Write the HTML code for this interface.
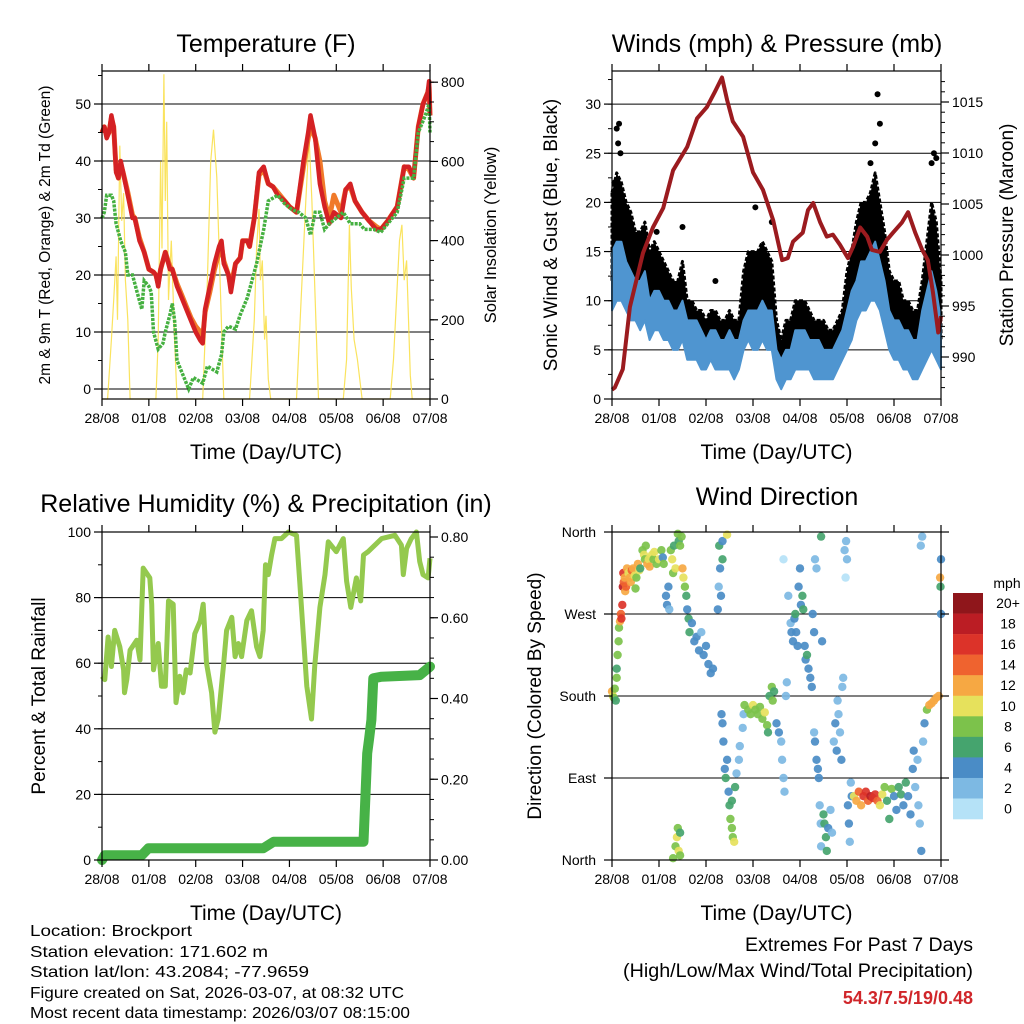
<!DOCTYPE html>
<html><head><meta charset="utf-8"><style>
html,body{margin:0;padding:0;background:#fff;}
svg{display:block;font-family:"Liberation Sans",sans-serif;}
</style></head><body>
<svg id="fig" width="1024" height="1024" viewBox="0 0 1024 1024" xmlns="http://www.w3.org/2000/svg">
<g><text x="266" y="52" font-size="25" text-anchor="middle">Temperature (F)</text></g>
<g><text x="777" y="52" font-size="25" text-anchor="middle">Winds (mph) &amp; Pressure (mb)</text></g>
<g><text x="266" y="512" font-size="25" text-anchor="middle">Relative Humidity (%) &amp; Precipitation (in)</text></g>
<g><text x="777" y="505" font-size="25" text-anchor="middle">Wind Direction</text></g>
<g font-size="16">
<text x="30" y="936" textLength="162" lengthAdjust="spacingAndGlyphs">Location: Brockport</text>
<text x="30" y="957" textLength="238" lengthAdjust="spacingAndGlyphs">Station elevation: 171.602 m</text>
<text x="30" y="977" textLength="279" lengthAdjust="spacingAndGlyphs">Station lat/lon: 43.2084; -77.9659</text>
<text x="30" y="998" textLength="374" lengthAdjust="spacingAndGlyphs">Figure created on Sat, 2026-03-07, at 08:32 UTC</text>
<text x="30" y="1018" textLength="380" lengthAdjust="spacingAndGlyphs">Most recent data timestamp: 2026/03/07 08:15:00</text>
</g>
<g font-size="19" text-anchor="end">
<text x="973" y="951" textLength="228" lengthAdjust="spacingAndGlyphs">Extremes For Past 7 Days</text>
<text x="973" y="977" textLength="350" lengthAdjust="spacingAndGlyphs">(High/Low/Max Wind/Total Precipitation)</text>
<text x="973" y="1004" fill="#d0262a" font-weight="bold" font-size="18">54.3/7.5/19/0.48</text>
</g>
</svg>
<script>
// ---------- data ----------
const dayLabels = ["28/08","01/08","02/08","03/08","04/08","05/08","06/08","07/08"];
const tempTicks = [0,10,20,30,40,50];
const solarTicks = [0,200,400,600,800];
const windTicks = [0,5,10,15,20,25,30];
const presTicks = [990,995,1000,1005,1010,1015];
const rhTicks = [0,20,40,60,80,100];
const precipTicks = [0,0.2,0.4,0.6,0.8];
const precipTickLabels = ["0.00","0.20","0.40","0.60","0.80"];
const dirTicks = [0,90,180,270,360];
const dirTickLabels = ["North","East","South","West","North"];
const speedBins = ["0","2","4","6","8","10","12","14","16","18","20+"];
const speedColors = ["#b5e2f7","#7db9e3","#4a8cc6","#45a46e","#7cc24b","#e6e15c","#f6a843","#ef632f","#dc3329","#bb1d24","#8f161b"];

const tDays = [0,0.05,0.1,0.15,0.2,0.25,0.3,0.35,0.4,0.45,0.55,0.65,0.7,0.8,0.9,1.0,1.1,1.15,1.2,1.25,1.35,1.45,1.5,1.6,1.7,1.8,1.9,2.0,2.1,2.15,2.2,2.3,2.4,2.5,2.55,2.6,2.7,2.75,2.85,2.95,3.0,3.1,3.15,3.25,3.35,3.45,3.55,3.65,3.75,3.9,4.0,4.15,4.3,4.4,4.45,4.55,4.65,4.75,4.85,4.95,5.1,5.2,5.3,5.4,5.55,5.7,5.85,5.95,6.1,6.3,6.45,6.55,6.65,6.75,6.85,6.95,6.98,7.0];
const t2m = [45,46,44,45,48,46,38,37,40,38,34,30,30,26,24,21,20.5,20,18,21,24,21,21,18,16,14,12,10,8.5,8,14,18,22,25,26,22,20,17,22,23,26,26,25,30,38,39,36,35.5,34,33,32,31,40,45,48,44,36,32,29,31,30,35,36,33,31,29.5,28,28,29.5,32,39,39,37,46,50,52,54,48];
const t9m = [45,46,44.5,45,47.5,46,38.5,37,39.5,38,34.5,30.5,30,26.5,24,21,20.5,20,18.5,21,24,21.5,21,18.5,16.5,14.5,12.5,11,10,9,13.5,17,21,24,25,22.5,20,18,22,23,26,26,25,30,37.5,38.5,36,35.5,34.5,33,32,31,39,44,46,44,40,33,30,34,31,35,35.5,33,31,29.5,28.5,28,29.5,32,39,38.5,37,46,50,52,53,48];
const tdDays = [0,0.05,0.1,0.2,0.25,0.3,0.4,0.5,0.55,0.65,0.75,0.85,0.9,1.0,1.05,1.1,1.2,1.3,1.35,1.45,1.5,1.55,1.6,1.7,1.85,1.95,2.05,2.15,2.25,2.35,2.45,2.55,2.6,2.7,2.85,2.95,3.1,3.3,3.45,3.55,3.75,3.9,4.05,4.2,4.35,4.45,4.55,4.65,4.75,4.85,5.0,5.15,5.3,5.5,5.6,5.8,5.95,6.1,6.3,6.45,6.55,6.65,6.75,6.9,6.98,7.0];
const td2m = [30,31,34,34,33,29,26,24,20,20,17,14,19,18,17,10,7,8,10,13,15,12,5,3,0,2,1.5,1,4,3.5,3,6,10,11,10.5,13,16,22,28,33,34,32.5,31.5,31,30,27,31,31,28,29,30,31,29,29,28,28,27.5,29,31,37,37,37,45,48,50,45];
const solDays = [0,0.12,0.2,0.25,0.3,0.33,0.38,0.42,0.46,0.5,0.55,0.6,1.15,1.2,1.25,1.28,1.32,1.35,1.38,1.42,1.48,1.55,1.6,2.15,2.25,2.32,2.38,2.45,2.52,2.6,3.15,3.25,3.3,3.35,3.38,3.42,3.47,3.5,3.55,3.6,4.15,4.25,4.35,4.42,4.48,4.55,4.62,5.15,5.22,5.28,5.32,5.38,5.45,5.55,6.15,6.22,6.35,6.4,6.45,6.5,6.58,6.62,7.0];
const solar = [0,0,150,250,360,200,640,450,520,300,200,0,0,150,600,380,820,500,700,250,400,150,0,0,300,600,680,560,300,0,0,200,380,480,300,350,150,210,50,0,0,250,500,660,500,250,0,0,100,440,280,150,100,0,0,100,400,440,300,350,60,0,0];

const wDays = [0,0.1,0.2,0.3,0.4,0.5,0.6,0.7,0.8,0.9,1.0,1.1,1.2,1.3,1.4,1.5,1.6,1.7,1.8,1.9,2.0,2.1,2.2,2.3,2.4,2.5,2.6,2.7,2.8,2.9,3.0,3.1,3.2,3.3,3.4,3.5,3.6,3.7,3.8,3.9,4.0,4.1,4.2,4.3,4.4,4.5,4.6,4.7,4.8,4.9,5.0,5.1,5.2,5.3,5.4,5.5,5.6,5.7,5.8,5.9,6.0,6.1,6.2,6.3,6.4,6.5,6.6,6.7,6.8,6.9,7.0];
const windLow = [9,10,10,9,8,8,7,8,6,7,7,6,6,5,5,6,4,4,4,3,3,4,3,3,3,3,2,3,5,6,5,5,6,5,5,2,1,2,2,3,3,3,3,2,2,2,2,2,3,4,5,6,8,9,9,10,10,9,7,5,4,4,3,3,2,2,3,4,5,4,3];
const windHigh = [15,16,16,14,13,12,12,13,10,11,11,10,10,9,9,10,8,8,8,7,6,7,7,6,6,7,6,6,8,9,9,9,10,9,9,5,4,5,5,7,7,7,6,6,6,5,5,5,6,7,9,11,12,14,14,15,16,14,12,9,8,8,7,7,6,6,9,11,13,11,8];
const gustLow = [12,13,13,12,11,10,9,10,8,9,9,8,8,7,7,8,6,6,5,5,4,5,5,4,4,5,3,4,8,9,9,9,10,9,8,3,2,3,4,5,5,5,5,4,4,3,3,3,4,5,7,9,12,13,14,15,15,13,10,7,6,6,5,5,4,4,6,8,10,8,6];
const gustHigh = [21,23,22,20,19,17,17,18,15,16,15,14,13,12,12,14,10,10,9,9,8,9,9,8,8,9,8,8,13,15,15,15,16,15,14,8,6,8,8,10,10,10,9,8,8,8,7,7,8,9,13,15,18,20,20,21,23,20,17,13,12,12,10,10,9,9,12,16,20,18,12];
const gustOutDays = [0.1,0.18,0.13,0.95,2.2,3.05,3.4,5.65,5.7,5.6,6.85,6.9,0.05,1.5,0.15,5.5,6.8];
const gustOut = [27.5,25,26,17,12,19.5,18,31,28,26,25,24.5,22,17.5,28,24,24];
const pDays = [0,0.06,0.23,0.38,0.66,0.87,1.09,1.3,1.6,1.81,2.02,2.19,2.34,2.45,2.57,2.79,3.0,3.21,3.43,3.62,3.74,3.85,4.06,4.17,4.28,4.43,4.57,4.7,4.85,5.02,5.13,5.28,5.43,5.53,5.7,5.85,5.98,6.17,6.3,6.45,6.6,6.72,6.83,6.94,7.0];
const pressure = [986.8,987.0,988.8,994.9,1000.2,1002.7,1004.6,1008.3,1010.6,1013.4,1014.5,1016.0,1017.4,1015.2,1013.1,1011.6,1008.1,1006.4,1003.4,999.5,999.7,1001.3,1002.2,1004.4,1005.1,1003.2,1001.8,1002.0,1001.0,999.7,1000.8,1002.7,1001.8,1000.5,1000.3,1001.5,1002.2,1003.2,1004.2,1002.2,1000.5,999.5,996.3,992.4,994.0];

const rhDays = [0,0.06,0.13,0.2,0.27,0.38,0.46,0.48,0.53,0.6,0.74,0.81,0.88,1.02,1.06,1.1,1.2,1.27,1.35,1.42,1.52,1.58,1.66,1.73,1.8,1.88,1.98,2.1,2.16,2.23,2.34,2.41,2.48,2.59,2.66,2.77,2.84,2.91,2.98,3.09,3.19,3.3,3.37,3.44,3.49,3.55,3.62,3.69,3.83,3.98,4.15,4.22,4.37,4.47,4.54,4.65,4.76,4.83,5.0,5.15,5.22,5.31,5.43,5.52,5.58,5.68,5.97,6.25,6.39,6.43,6.5,6.6,6.71,6.78,6.85,6.96,7.0];
const rh = [56,55,68,59,70,65,58,51,55,64,67,61,89,86,78,58,66,53,53,79,78,48,56,51,58,57,69,73,78,60,51,39,43,59,70,74,62,66,62,73,76,65,62,70,90,87,93,98,98,100,99,85,53,43,59,77,87,97,94,98,85,77,86,79,93,94,98,99,96,87,95,98,100,91,87,86,92];
const prDays = [0,0.06,0.85,0.99,3.44,3.66,5.58,5.62,5.66,5.7,5.75,5.79,5.97,6.78,7.0];
const precip = [0,0.012,0.012,0.029,0.029,0.045,0.045,0.15,0.264,0.3,0.347,0.45,0.454,0.458,0.479];

const dirDay = [0,0.02,0.04,0.06,0.08,0.1,0.1,0.12,0.14,0.15,0.17,0.19,0.2,0.22,0.23,0.24,0.25,0.27,0.28,0.3,0.32,0.35,0.38,0.4,0.42,0.45,0.48,0.5,0.52,0.55,0.58,0.6,0.65,0.68,0.7,0.72,0.75,0.78,0.8,0.85,0.88,0.9,0.95,1.0,1.05,1.08,1.1,1.15,1.17,1.2,1.22,1.25,1.28,1.3,1.32,1.35,1.4,1.42,1.45,1.48,1.5,1.52,1.55,1.58,1.6,1.63,1.65,1.7,1.75,1.8,1.85,1.9,1.95,2.0,2.05,2.1,2.15,2.25,2.27,2.28,2.3,2.32,2.35,2.45,2.35,
1.3,1.35,1.38,1.4,1.42,1.45,1.45,
2.33,2.35,2.37,2.4,2.42,2.45,2.48,2.5,2.52,2.55,2.57,2.6,2.55,2.62,2.65,2.7,2.72,2.78,2.8,2.82,2.9,2.95,3.0,3.05,3.1,3.15,3.2,3.25,3.3,3.32,3.35,3.4,3.42,3.45,3.5,3.55,3.6,3.62,3.65,3.67,3.7,3.72,3.65,
3.75,3.8,3.82,3.85,3.88,3.9,3.92,3.95,3.97,4.0,4.02,4.05,4.07,4.1,4.12,4.15,4.18,4.22,4.25,4.27,4.3,4.32,4.35,4.45,4.47,
4.3,4.32,4.35,4.38,4.4,4.42,4.44,4.45,4.5,4.52,4.55,4.57,4.6,4.65,4.68,4.72,4.75,4.78,4.8,4.82,4.85,4.88,4.9,4.92,4.95,4.97,4.98,5.0,5.02,5.04,5.06,5.08,5.1,
5.15,5.2,5.25,5.3,5.35,5.4,5.45,5.5,5.55,5.6,5.65,5.7,5.75,5.8,5.85,5.9,5.95,6.0,6.05,6.1,6.15,6.2,6.25,6.3,6.35,6.4,6.42,6.45,6.5,6.52,6.55,6.58,6.6,6.57,6.62,6.65,
6.7,6.75,6.8,6.85,6.9,6.95,6.98,6.99,7.0,7.0];
const dirDeg = [185,180,178,188,175,200,210,225,240,255,262,270,265,280,300,315,305,310,295,300,320,315,310,305,318,320,312,298,310,325,318,320,340,335,330,345,325,330,322,335,330,338,325,330,340,332,325,290,280,300,275,340,330,315,345,320,358,350,345,355,320,310,300,290,275,265,250,260,240,245,230,250,225,235,215,205,210,275,300,345,320,290,350,357,330,
2,15,25,35,10,5,30,
160,150,130,100,90,110,75,60,45,35,25,20,65,80,95,110,125,145,160,170,165,160,170,165,160,168,155,162,148,140,180,190,175,185,150,140,130,110,90,75,180,195,330,
290,260,250,240,265,270,250,235,300,320,280,290,275,235,220,225,210,200,190,270,250,330,320,355,240,
140,130,110,100,90,60,40,15,50,40,25,10,35,55,30,130,150,120,175,160,140,110,190,200,340,310,350,330,60,40,20,85,70,
70,65,75,60,70,75,65,70,68,72,65,60,72,80,65,45,78,70,55,80,72,60,85,70,50,100,120,80,110,60,40,10,355,345,130,150,
165,170,172,175,178,180,310,300,330,270];
const dirSpd = [12,10,8,8,6,8,6,8,8,8,12,14,16,16,18,16,14,12,12,14,12,10,12,12,14,12,10,8,8,12,10,6,8,10,8,8,12,10,12,10,8,10,8,10,8,4,8,4,4,4,2,8,10,8,6,10,8,6,8,8,12,10,8,6,4,6,6,4,4,4,4,2,4,4,4,4,4,4,2,6,4,4,4,10,6,
8,8,10,8,10,8,6,
4,4,4,4,6,4,4,6,8,8,8,10,6,6,2,2,2,2,2,8,8,8,10,8,8,8,8,10,8,6,6,8,8,6,4,4,2,2,2,2,2,2,0,
2,2,4,4,4,6,4,4,4,4,4,6,6,4,4,6,4,4,4,4,4,2,2,6,4,
2,4,4,4,4,2,2,2,6,6,6,6,4,2,2,2,4,4,2,2,2,4,2,2,2,0,2,2,4,4,2,2,4,
10,12,14,12,16,16,14,18,16,16,14,10,10,8,6,6,8,4,4,6,6,4,6,4,4,4,4,2,2,2,2,4,2,2,2,4,
8,12,12,12,12,12,12,6,4,4];

// ---------- helpers ----------
const NS = "http://www.w3.org/2000/svg";
const svg = document.getElementById('fig');
function mk(tag, attrs, parent){
  const e = document.createElementNS(NS, tag);
  for (const k in attrs) e.setAttribute(k, attrs[k]);
  (parent||svg).appendChild(e);
  return e;
}
function panel(x0,x1,top,bot){ return {x0,x1,top,bot,xs:d=>x0+d*(x1-x0)/7}; }
function linePath(xsArr, ysArr, fx, fy){
  let s=""; for(let i=0;i<xsArr.length;i++){ s+=(i?"L":"M")+fx(xsArr[i]).toFixed(1)+","+fy(ysArr[i]).toFixed(1); } return s;
}
function bandPath(xsArr, lo, hi, fx, fy){
  let s=""; for(let i=0;i<xsArr.length;i++) s+=(i?"L":"M")+fx(xsArr[i]).toFixed(1)+","+fy(hi[i]).toFixed(1);
  for(let i=xsArr.length-1;i>=0;i--) s+="L"+fx(xsArr[i]).toFixed(1)+","+fy(lo[i]).toFixed(1);
  return s+"Z";
}
function frame(P, name){
  const g = mk('g',{});
  
  
  mk('rect',{x:P.x0,y:P.top,width:P.x1-P.x0,height:P.bot-P.top,fill:'none',stroke:'#000','stroke-width':1.2},g);
  return g;
}
function xAxis(P, name){
  const g = mk('g',{});
  
  
  for(let i=0;i<dayLabels.length;i++){
    const x=P.xs(i);
    mk('line',{x1:x,x2:x,y1:P.bot,y2:P.bot+7,stroke:'#000','stroke-width':1.2},g);
    mk('line',{x1:x,x2:x,y1:P.top,y2:P.top-7,stroke:'#000','stroke-width':1.2},g);
    const t=mk('text',{x:x,y:P.bot+24,'font-size':14,'text-anchor':'middle'},g); t.textContent=dayLabels[i];
  }
  const t=mk('text',{x:(P.x0+P.x1)/2,y:P.bot+60,'font-size':21,'text-anchor':'middle'},g); t.textContent="Time (Day/UTC)";
}
function yAxisLeft(P, ticks, labels, fy, minor, title, tsize, tx, name){
  const g = mk('g',{});
  
  
  minor.forEach(v=>{ const y=fy(v); if(y>=P.top-0.5&&y<=P.bot+0.5) mk('line',{x1:P.x0,x2:P.x0-4,y1:y,y2:y,stroke:'#000','stroke-width':1},g); });
  ticks.forEach((v,i)=>{ const y=fy(v);
    mk('line',{x1:P.x0,x2:P.x0-8,y1:y,y2:y,stroke:'#000','stroke-width':1.2},g);
    const t=mk('text',{x:P.x0-11,y:y+5,'font-size':14,'text-anchor':'end'},g); t.textContent=labels[i]; });
  const cy=(P.top+P.bot)/2;
  const t=mk('text',{x:tx,y:cy,'font-size':tsize,'text-anchor':'middle',transform:`rotate(-90 ${tx} ${cy})`},g); t.textContent=title;
}
function yAxisRight(P, ticks, labels, fy, minor, title, tsize, tx, name){
  const g = mk('g',{});
  
  
  minor.forEach(v=>{ const y=fy(v); if(y>=P.top-0.5&&y<=P.bot+0.5) mk('line',{x1:P.x1,x2:P.x1+4,y1:y,y2:y,stroke:'#000','stroke-width':1},g); });
  ticks.forEach((v,i)=>{ const y=fy(v);
    mk('line',{x1:P.x1,x2:P.x1+8,y1:y,y2:y,stroke:'#000','stroke-width':1.2},g);
    const t=mk('text',{x:P.x1+11,y:y+5,'font-size':14,'text-anchor':'start'},g); t.textContent=labels[i]; });
  if(title){ const cy=(P.top+P.bot)/2;
  const t=mk('text',{x:tx,y:cy,'font-size':tsize,'text-anchor':'middle',transform:`rotate(-90 ${tx} ${cy})`},g); t.textContent=title; }
}
function grid(P, vals, fy, name){
  const g = mk('g',{});
  
  
  vals.forEach(v=>{ const y=fy(v); mk('line',{x1:P.x0,x2:P.x1,y1:y,y2:y,stroke:'#000','stroke-width':1},g); });
}
function range(a,b,s){ const r=[]; for(let v=a; v<=b+1e-9; v+=s) r.push(+v.toFixed(4)); return r; }

// ---------- Panel 1: temperature ----------
{
  const P=panel(102,430,71,399);
  const yL=t=>389-t*5.7, yR=s=>399-s*0.396;
  grid(P,tempTicks,yL,'temperature');
  const gs=mk('path',{d:linePath(solDays,solar,P.xs,yR),fill:'none',stroke:'#f9e04d','stroke-width':1.2,'stroke-opacity':0.9});
  
  
  const go=mk('path',{d:linePath(tDays,t9m,P.xs,yL),fill:'none',stroke:'#f07a2a','stroke-width':5,'stroke-linejoin':'round'});
  
  
  const gr=mk('path',{d:linePath(tDays,t2m,P.xs,yL),fill:'none',stroke:'#d42124','stroke-width':4.5,'stroke-linejoin':'round'});
  
  
  const gd=mk('path',{d:linePath(tdDays,td2m,P.xs,yL),fill:'none',stroke:'#45b040','stroke-width':3.5,'stroke-dasharray':'3 1.2'});
  
  
  frame(P,'temperature');
  xAxis(P,'temperature');
  yAxisLeft(P,tempTicks,tempTicks.map(String),yL,range(0,55,5),"2m & 9m T (Red, Orange) & 2m Td (Green)",15.5,50,'temperature');
  yAxisRight(P,solarTicks,solarTicks.map(String),yR,range(0,800,50),"Solar Insolation (Yellow)",16.5,496,'solar');
}
// ---------- Panel 2: winds ----------
{
  const P=panel(612,941,71,399);
  const yL=w=>399-w*9.83, yR=p=>357-(p-990)*10.2;
  grid(P,windTicks.slice(1),yL,'wind');
  const gb=mk('path',{d:bandPath(wDays,gustLow,gustHigh,P.xs,yL),fill:'#000',stroke:'#000','stroke-width':3,'stroke-linejoin':'round','stroke-dasharray':'4 2'});
  
  
  const gg=mk('g',{});
  
  
  for(let i=0;i<gustOut.length;i++){ mk('circle',{cx:P.xs(gustOutDays[i]),cy:yL(gustOut[i]),r:3,fill:'#000'},gg); }
  const gw=mk('path',{d:bandPath(wDays,windLow,windHigh,P.xs,yL),fill:'#4f95d0',stroke:'#4f95d0','stroke-width':2,'stroke-linejoin':'round'});
  
  
  const gp=mk('path',{d:linePath(pDays,pressure,P.xs,yR),fill:'none',stroke:'#9b1b1f','stroke-width':4,'stroke-linejoin':'round'});
  
  
  frame(P,'wind');
  xAxis(P,'wind');
  yAxisLeft(P,windTicks,windTicks.map(String),yL,range(0,33,2.5),"Sonic Wind & Gust (Blue, Black)",19,557,'wind');
  yAxisRight(P,presTicks,presTicks.map(String),yR,range(987,1017,1),"Station Pressure (Maroon)",19,1013,'pressure');
}
// ---------- Panel 3: humidity ----------
{
  const P=panel(102,430,532,860);
  const yL=h=>860-h*3.28, yR=p=>860-p*403.75;
  grid(P,[20,40,60,80],yL,'humidity');
  const gh=mk('path',{d:linePath(rhDays,rh,P.xs,yL),fill:'none',stroke:'#94c94e','stroke-width':5,'stroke-linejoin':'round'});
  
  
  const gpr=mk('path',{d:linePath(prDays,precip,P.xs,yR),fill:'none',stroke:'#47b247','stroke-width':10,'stroke-linejoin':'round','stroke-linecap':'round'});
  
  
  frame(P,'humidity');
  xAxis(P,'humidity');
  yAxisLeft(P,rhTicks,rhTicks.map(String),yL,range(0,100,10),"Percent & Total Rainfall",19,45,'humidity');
  yAxisRight(P,precipTicks,precipTickLabels,yR,range(0,0.8,0.05),"",0,0,'precipitation');
}
// ---------- Panel 4: wind direction ----------
{
  const P=panel(612,941,532,860);
  const yD=d=>860-d*0.9111;
  grid(P,dirTicks,yD,'direction');
  const g=mk('g',{});
  
  
  for(let i=0;i<dirDay.length;i++){
    const bin=Math.min(10,Math.max(0,Math.round(dirSpd[i]/2)));
    mk('circle',{cx:P.xs(dirDay[i]).toFixed(1),cy:yD(dirDeg[i]).toFixed(1),r:4.2,fill:speedColors[bin],'fill-opacity':0.92},g);
  }
  frame(P,'direction');
  xAxis(P,'direction');
  const ga=mk('g',{});
  
  
  dirTicks.forEach((v,i)=>{ const y=yD(v);
    mk('line',{x1:P.x0,x2:P.x0-8,y1:y,y2:y,stroke:'#000','stroke-width':1.2},ga);
    mk('line',{x1:P.x1,x2:P.x1+8,y1:y,y2:y,stroke:'#000','stroke-width':1.2},ga);
    const t=mk('text',{x:P.x0-16,y:y+5,'font-size':14,'text-anchor':'end'},ga); t.textContent=dirTickLabels[i]; });
  const cy=(P.top+P.bot)/2;
  const tt=mk('text',{x:541,y:cy,'font-size':19,'text-anchor':'middle',transform:`rotate(-90 541 ${cy})`},ga); tt.textContent="Direction (Colored By Speed)";
  const cb=mk('g',{});
  
  
  const t0=mk('text',{x:1007,y:588,'font-size':14,'text-anchor':'middle'},cb); t0.textContent="mph";
  for(let i=0;i<speedBins.length;i++){
    const k=speedBins.length-1-i; const y=593+i*20.55;
    mk('rect',{x:953,y:y,width:30,height:20.8,fill:speedColors[k]},cb);
    const t=mk('text',{x:1008,y:y+15,'font-size':14,'text-anchor':'middle'},cb); t.textContent=speedBins[k];
  }
}
</script>
</body></html>
